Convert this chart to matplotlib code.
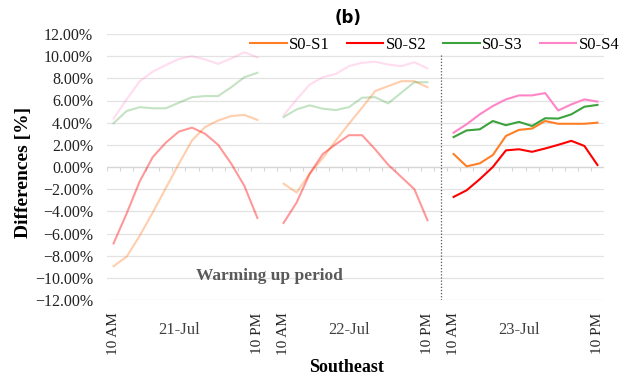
import numpy as np
import matplotlib.pyplot as plt
from matplotlib.ticker import FuncFormatter

# Days and labels on the category axis
days = ['21-Jul', '22-Jul', '23-Jul']
start_label = '10 AM'
end_label = '10 PM'
n_points = 12

# Differences [%] per series, one list per day
s0_s1 = [[-8.95, -8.1, -6.2, -4.1, -1.9, 0.3, 2.4, 3.6, 4.2, 4.6, 4.7, 4.25],
         [-1.5, -2.3, -0.6, 0.8, 2.4, 3.9, 5.35, 6.85, 7.3, 7.74, 7.74, 7.2],
         [1.17, 0.06, 0.33, 1.08, 2.8, 3.35, 3.47, 4.15, 3.9, 3.9, 3.9, 4.0]]
s0_s2 = [[-6.9, -4.2, -1.3, 0.9, 2.2, 3.2, 3.55, 3.0, 2.0, 0.3, -1.7, -4.6],
         [-5.05, -3.2, -0.6, 1.17, 2.06, 2.87, 2.87, 1.6, 0.2, -0.9, -2.0, -4.8],
         [-2.7, -2.1, -1.1, 0.0, 1.5, 1.6, 1.37, 1.67, 2.0, 2.36, 1.9, 0.18]]
s0_s3 = [[3.95, 5.05, 5.4, 5.3, 5.3, 5.8, 6.3, 6.4, 6.4, 7.2, 8.1, 8.5],
         [4.5, 5.2, 5.56, 5.26, 5.14, 5.4, 6.25, 6.3, 5.74, 6.7, 7.65, 7.65],
         [2.7, 3.3, 3.4, 4.15, 3.77, 4.07, 3.7, 4.4, 4.37, 4.75, 5.44, 5.6]]
s0_s4 = [[4.37, 6.1, 7.74, 8.6, 9.2, 9.75, 10.0, 9.7, 9.3, 9.8, 10.35, 9.9],
         [4.66, 6.1, 7.44, 8.1, 8.4, 9.1, 9.4, 9.5, 9.24, 9.1, 9.45, 8.9],
         [3.1, 3.86, 4.75, 5.5, 6.1, 6.46, 6.46, 6.67, 5.1, 5.65, 6.1, 5.9]]

series = {'S0-S1': s0_s1, 'S0-S2': s0_s2, 'S0-S3': s0_s3, 'S0-S4': s0_s4}
colors = {'S0-S1': '#ff7f27', 'S0-S2': '#ff0000', 'S0-S3': '#3ca33c', 'S0-S4': '#ff85c8'}
faded_alpha = {'S0-S1': 0.38, 'S0-S2': 0.4, 'S0-S3': 0.3, 'S0-S4': 0.28}
warmup_days = 2

serif = 'Liberation Serif'
plt.rcParams['font.family'] = serif

fig = plt.figure(figsize=(6.19, 3.81), dpi=100)
ax = fig.add_axes([107 / 619, 1 - 300 / 381, 497 / 619, 266 / 381])

step = n_points + 1  # one empty category between days
for name, vals in series.items():
    for d, day_vals in enumerate(vals):
        x = d * step + np.arange(n_points)
        alpha = faded_alpha[name] if d < warmup_days else 1.0
        ax.plot(x, day_vals, color=colors[name], lw=1.5, alpha=alpha,
                label=name if d == len(vals) - 1 else None,
                solid_joinstyle='round')

# grid and category axis at 0
for yv in np.arange(-12, 13, 2):
    ax.axhline(yv, color='#e3e3e3', lw=0.9, zorder=0)
ax.axhline(0, color='#d6d6d6', lw=0.9, zorder=0)
total = step * len(days) - 1
ax.vlines(np.arange(-0.5, total + 0.5, 1), -0.35, 0, color='#d6d6d6', lw=0.8, zorder=0)

# separator between warming up period and the rest
sep_x = warmup_days * step - 1
ax.plot([sep_x, sep_x], [-12, 10.2], color='#555555', lw=0.9, ls=(0, (1, 1.5)))

ax.set_xlim(-0.5, total - 0.5)
ax.set_ylim(-12, 12)
for s in ax.spines.values():
    s.set_visible(False)

ax.yaxis.set_major_formatter(FuncFormatter(lambda v, p: f'{v:.2f}%'.replace('-', '\u2212')))
ax.set_yticks(np.arange(-12, 13, 2))
ax.tick_params(axis='y', length=0, pad=10, labelsize=11.5, labelcolor='#222222')

xt, xl = [], []
for d in range(len(days)):
    xt += [d * step, d * step + n_points - 1]
    xl += [start_label, end_label]
ax.set_xticks(xt)
ax.set_xticklabels(xl, rotation=90, va='top', ha='center')
ax.tick_params(axis='x', length=0, pad=9, labelsize=11, labelcolor='#262626')

for d, day in enumerate(days):
    ax.text(d * step + 5, -0.113, day, transform=ax.get_xaxis_transform(),
            ha='center', va='center', fontsize=12, color='#404040')

ax.text(11.9, -9.87, 'Warming up period', ha='center', va='center',
        fontsize=12.5, fontweight='bold', color='#595959')

fig.text(24 / 619, 1 - 172 / 381, 'Differences [%]', rotation=90, ha='center',
         va='center', fontsize=14, fontweight='bold')
fig.text(347 / 619, 1 - 367 / 381, 'Southeast', ha='center', va='center',
         fontsize=13, fontweight='bold')
fig.text(348 / 619, 1 - 18 / 381, '(b)', ha='center', va='center',
         fontsize=12, fontweight='bold', family='DejaVu Sans')

fig.legend(loc='center left', bbox_to_anchor=(250 / 619, 1 - 45 / 381), ncol=4,
           frameon=False, fontsize=12, handlelength=2.2, handletextpad=0.15,
           columnspacing=1.0, borderpad=0, borderaxespad=0)

fig.savefig('out.png', dpi=100)
